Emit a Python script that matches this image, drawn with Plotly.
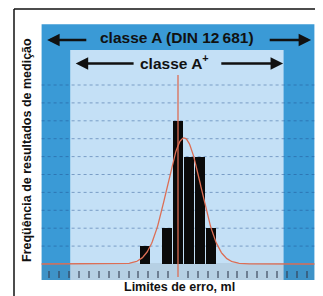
import numpy as np
import plotly.graph_objects as go

# ---- data (error in bin units, counts) ----
bin_centers = [-3, -2, -1, 0, 1, 2, 3]
counts = [1, 0, 2, 8, 6, 6, 2]
grid_levels = [1, 2, 3, 4, 5, 6, 7, 8, 9, 10]
classA_limits = [-12.4, 12.4]
classAplus_limits = [-9.8, 9.6]
curve_mean = 0.55
curve_sd = 1.55
curve_peak = 7.05
tick_positions = [-11.7, -10.8, -9.9, -9.0, -8.1, -7.2, -6.3, -5.4, -4.5, -3.6, -2.7, -1.8, -0.9,
                  0.9, 1.8, 2.7, 3.6, 4.5, 5.4, 6.3, 7.2, 8.1, 9.0, 9.9, 10.8, 11.7]

title_A = "classe A (DIN 12\u2009681)"
title_Aplus = "classe A<sup>+</sup>"
y_title = "Freqüência de resultados de medição"
x_title = "Limites de erro, ml"

# the page has an 8px body margin, so the figure starts 8px in from the top-left
OFF = 8
W, H = 323 - OFF, 296 - OFF


def px(xp):
    return (xp - OFF) / W


def py(yp):
    return 1 - (yp - OFF) / H


x_range = [(OFF - 178) / 11, (323 - 178) / 11]
y_range = [(264 - 296) / 17.9, (264 - OFF) / 17.9]
region_bottom = -0.89
outer_top = 13.4
inner_top = 11.96

red = "#dc6e55"
dark_blue = "#3a9ad6"
light_blue = "#c4e0f6"
font_family = "Liberation Sans, Arial"

fig = go.Figure()

shapes = []
shapes.append(dict(type="rect", xref="x", yref="y", x0=classA_limits[0], x1=classA_limits[1],
                   y0=region_bottom, y1=outer_top, fillcolor=dark_blue, line_width=0, layer="below"))
shapes.append(dict(type="rect", xref="x", yref="y", x0=classAplus_limits[0], x1=classAplus_limits[1],
                   y0=region_bottom, y1=inner_top, fillcolor=light_blue, line_width=0, layer="below"))
shapes.append(dict(type="rect", xref="x", yref="y", x0=classA_limits[0], x1=classA_limits[1],
                   y0=region_bottom, y1=0.05, fillcolor="rgba(90,100,110,0.13)", line_width=0, layer="below"))
for g in grid_levels:
    shapes.append(dict(type="line", xref="x", yref="y", x0=classA_limits[0], x1=classA_limits[1],
                       y0=g, y1=g, line=dict(color="rgba(30,75,140,0.45)", width=1, dash="dot"),
                       layer="below"))
# frame (top and left)
shapes.append(dict(type="line", xref="paper", yref="paper", x0=px(14), x1=1, y0=py(9), y1=py(9),
                   line=dict(color="#111", width=1.5)))
shapes.append(dict(type="line", xref="paper", yref="paper", x0=px(14), x1=px(14), y0=0, y1=py(9),
                   line=dict(color="#111", width=1.5)))

fig.add_trace(go.Bar(x=bin_centers, y=counts, width=0.88, marker=dict(color="#0a0a0a", line_width=0)))

cx = np.linspace(classA_limits[0], classA_limits[1], 400)
cy = curve_peak * np.exp(-((cx - curve_mean) ** 2) / (2 * curve_sd ** 2))
fig.add_trace(go.Scatter(x=cx, y=cy, mode="lines", line=dict(color=red, width=1.3)))

fig.add_trace(go.Scatter(x=[0, 0], y=[-0.73, 10.56], mode="lines", line=dict(color=red, width=1.3)))

arrow_style = dict(xref="x", yref="y", axref="x", ayref="y", text="", showarrow=True,
                   arrowhead=2, arrowsize=1.0, arrowwidth=2.5, arrowcolor="#111")
annotations = []
annotations.append(dict(x=-0.1, y=12.63, xref="x", yref="y", text="<b>" + title_A + "</b>", showarrow=False,
                        xanchor="center", yanchor="middle",
                        font=dict(family=font_family, size=15.5, color="#111")))
annotations.append(dict(x=-11.9, y=12.51, ax=-8.2, ay=12.51, **arrow_style))
annotations.append(dict(x=12.1, y=12.51, ax=8.2, ay=12.51, **arrow_style))
annotations.append(dict(x=-0.35, y=11.3, xref="x", yref="y", text="<b>" + title_Aplus + "</b>", showarrow=False,
                        xanchor="center", yanchor="middle",
                        font=dict(family=font_family, size=15.5, color="#111")))
annotations.append(dict(x=-9.3, y=11.2, ax=-3.9, ay=11.2, **arrow_style))
annotations.append(dict(x=9.55, y=11.2, ax=3.8, ay=11.2, **arrow_style))
annotations.append(dict(x=px(27), y=py(150), xref="paper", yref="paper", text="<b>" + y_title + "</b>",
                        textangle=-90, showarrow=False, xanchor="center", yanchor="middle",
                        font=dict(family=font_family, size=12.5, color="#111")))
annotations.append(dict(x=px(179), y=py(287), xref="paper", yref="paper", text="<b>" + x_title + "</b>",
                        showarrow=False, xanchor="center", yanchor="middle",
                        font=dict(family=font_family, size=12.5, color="#111")))

fig.update_layout(
    width=W, height=H, autosize=False,
    margin=dict(l=0, r=0, t=0, b=0, pad=0),
    paper_bgcolor="white", plot_bgcolor="white",
    showlegend=False, bargap=0,
    shapes=shapes, annotations=annotations,
    xaxis=dict(range=x_range, showgrid=False, zeroline=False, showline=False,
               tickvals=tick_positions, showticklabels=False, ticks="outside", ticklen=7,
               tickwidth=1.5, tickcolor="rgba(50,60,80,0.55)",
               anchor="free", position=py(270), fixedrange=True),
    yaxis=dict(range=y_range, visible=False, showgrid=False, zeroline=False, fixedrange=True),
)

fig.write_html("out.html")
